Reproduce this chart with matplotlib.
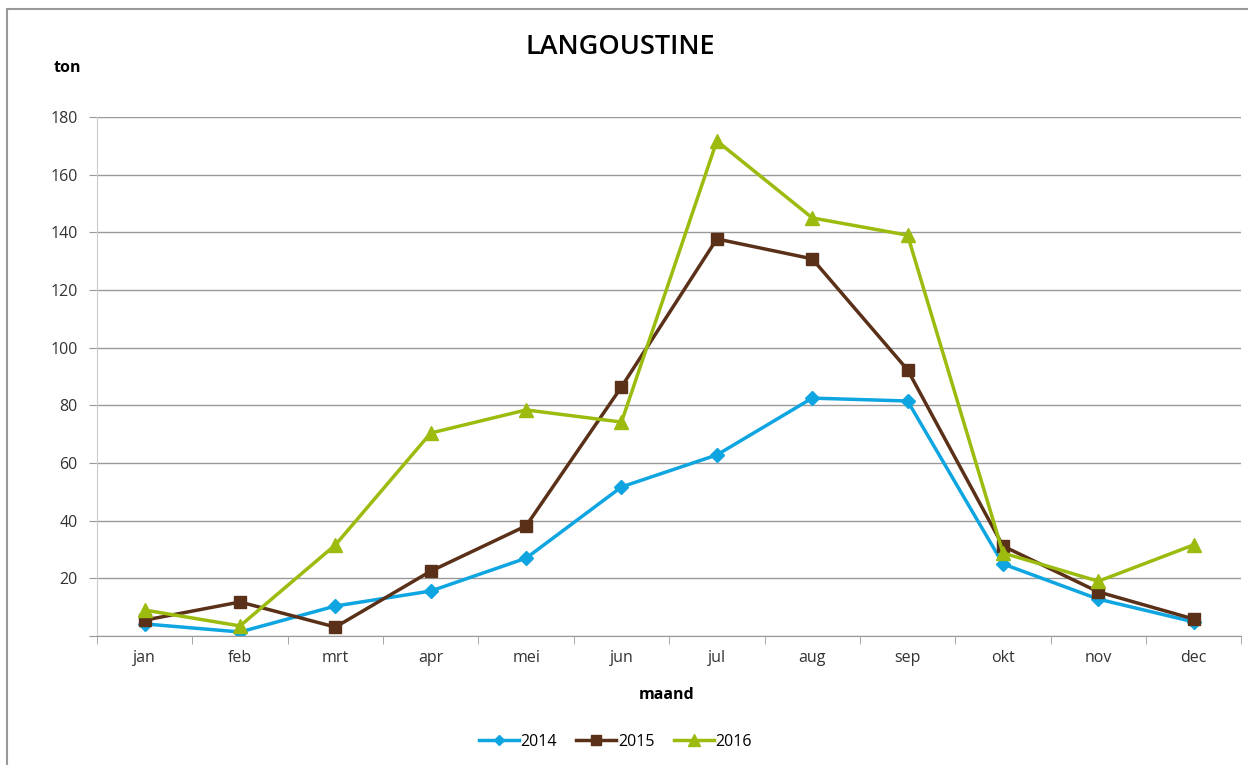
import matplotlib
matplotlib.use('Agg')
import matplotlib.pyplot as plt
from matplotlib.patches import Rectangle

plt.rcParams['font.family'] = ['Open Sans', 'DejaVu Sans']

months = ['jan', 'feb', 'mrt', 'apr', 'mei', 'jun', 'jul', 'aug', 'sep', 'okt', 'nov', 'dec']
y2014 = [4.2, 1.4, 10.4, 15.6, 27.0, 51.7, 62.8, 82.5, 81.5, 25.0, 12.8, 4.9]
y2015 = [5.5, 11.8, 3.1, 22.5, 38.2, 86.4, 137.7, 130.8, 92.3, 31.2, 15.3, 5.9]
y2016 = [9.0, 3.5, 31.6, 70.4, 78.4, 74.2, 171.7, 145.0, 139.0, 28.8, 19.0, 31.6]

fig = plt.figure(figsize=(12.48, 7.65), dpi=100)
ax = fig.add_axes([0.0777, 0.1686, 0.917, 0.6785])

x = list(range(len(months)))
ax.plot(x, y2014, color='#0ea5e0', lw=2.5, marker='D', ms=7, label='2014')
ax.plot(x, y2015, color='#5a3118', lw=2.5, marker='s', ms=9, label='2015')
ax.plot(x, y2016, color='#9bbb0e', lw=2.5, marker='^', ms=10, label='2016')

ax.set_xlim(-0.5, 11.5)
ax.set_ylim(0, 180)
ax.set_yticks(range(0, 181, 20))
ax.set_yticklabels([''] + [str(v) for v in range(20, 181, 20)], fontsize=11.5, color='#333333')
ax.set_xticks(x)
ax.set_xticklabels(months, fontsize=11.5, color='#333333')
ax.set_xticks([i - 0.5 for i in range(13)], minor=True)
ax.tick_params(axis='x', which='major', length=0, pad=10)
ax.tick_params(axis='x', which='minor', length=6, color='#999999', direction='out')
ax.tick_params(axis='y', length=6, color='#999999', direction='out', pad=8)
ax.yaxis.grid(True, color='#999999', lw=1)
ax.set_axisbelow(True)
for s in ['top', 'right']:
    ax.spines[s].set_visible(False)
ax.spines['left'].set_color('#cccccc')
ax.spines['bottom'].set_color('#999999')

fig.text(0.497, 0.938, 'LANGOUSTINE', ha='center', va='center', fontsize=19.5, fontweight='semibold')
fig.text(0.054, 0.911, 'ton', ha='center', va='center', fontsize=11.5, fontweight='bold')
fig.text(0.5345, 0.091, 'maand', ha='center', va='center', fontsize=11.5, fontweight='bold')

ax.legend(loc='center', bbox_to_anchor=(0.453, -0.204), ncol=3, frameon=False,
          fontsize=11.5, handlelength=2.5, columnspacing=1.2, handletextpad=0.1,
          markerscale=0.8)

fig.patches.append(Rectangle((0.0056, -0.1), 1.5, 1.088, transform=fig.transFigure,
                             fill=False, ec='#999999', lw=1.5))

fig.savefig('out.png', dpi=100)
